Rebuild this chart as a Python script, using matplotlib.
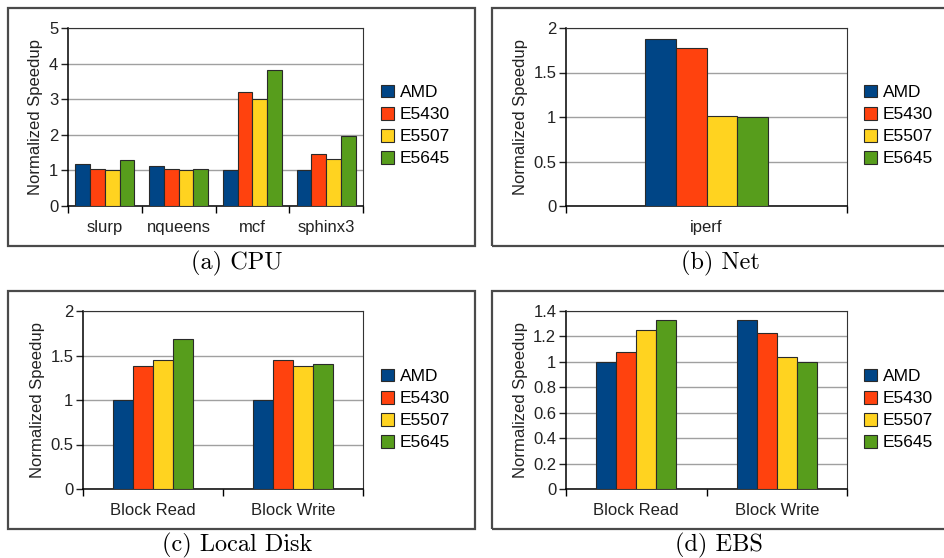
import numpy as np
import matplotlib
matplotlib.use('Agg')
import matplotlib.pyplot as plt
from matplotlib.patches import Rectangle

series = ['AMD', 'E5430', 'E5507', 'E5645']
colors = ['#004586', '#ff420e', '#ffd320', '#579d1c']

cpu_labels = ['slurp', 'nqueens', 'mcf', 'sphinx3']
cpu_values = [
    [1.18, 1.11, 1.00, 1.00],   # AMD
    [1.05, 1.05, 3.20, 1.45],   # E5430
    [1.00, 1.00, 3.01, 1.31],   # E5507
    [1.28, 1.05, 3.82, 1.97],   # E5645
]

net_labels = ['iperf']
net_values = [[1.88], [1.77], [1.01], [1.00]]

disk_labels = ['Block Read', 'Block Write']
disk_values = [[1.00, 1.00], [1.38, 1.45], [1.45, 1.38], [1.68, 1.41]]

ebs_labels = ['Block Read', 'Block Write']
ebs_values = [[1.00, 1.33], [1.08, 1.23], [1.25, 1.04], [1.33, 1.00]]

W, H = 944, 558
fig = plt.figure(figsize=(W / 100, H / 100), dpi=100)
plt.rcParams['font.family'] = ['Liberation Sans', 'DejaVu Sans']


def px_axes(left, top, right, bottom):
    return fig.add_axes([left / W, 1 - bottom / H, (right - left) / W, (bottom - top) / H])


def draw_panel(box, rect, labels, values, ymax, ystep, group, yfmt, caption, cap_xy, leg_xy):
    # outer frame
    bx0, by0, bx1, by1 = box
    fig.patches.append(Rectangle((bx0 / W, 1 - by1 / H), (bx1 - bx0) / W, (by1 - by0) / H,
                                 transform=fig.transFigure, fill=False,
                                 edgecolor='#4a4a4a', lw=1.6, zorder=0))
    ax = px_axes(*rect)
    n = len(labels)
    x = np.arange(n)
    bw = group / len(series)
    for i, (name, col) in enumerate(zip(series, colors)):
        ax.bar(x - group / 2 + bw * (i + 0.5), values[i], bw, color=col,
               edgecolor='#2a2a2a', lw=0.8, label=name, zorder=3)
    ax.set_xlim(-0.5, n - 0.5)
    ax.set_ylim(0, ymax)
    yt = np.arange(0, ymax + 1e-9, ystep)
    ax.set_yticks(yt)
    ax.set_yticklabels([yfmt(v) for v in yt])
    ax.set_xticks(x)
    ax.set_xticklabels(labels)
    ax.set_xticks(np.arange(n + 1) - 0.5, minor=True)
    ax.tick_params(axis='x', which='major', length=0, labelsize=12, pad=10, colors='#222222')
    ax.tick_params(axis='x', which='minor', length=5, width=1, direction='out')
    ax.tick_params(axis='y', length=5, width=1, direction='out', labelsize=12, pad=2,
                   colors='#222222')
    ax.yaxis.grid(True, color='#a0a0a0', lw=1, zorder=0)
    ax.set_axisbelow(True)
    for s in ['top', 'right']:
        ax.spines[s].set_color('#333333')
        ax.spines[s].set_linewidth(0.8)
    for s in ['left', 'bottom']:
        ax.spines[s].set_color('black')
        ax.spines[s].set_linewidth(1.1)
    ax.set_ylabel('Normalized Speedup', fontsize=12, color='#222222', labelpad=4)
    ax.legend(loc='center left', bbox_to_anchor=(leg_xy[0] / W, 1 - leg_xy[1] / H),
              bbox_transform=fig.transFigure, frameon=False, fontsize=12.5,
              handlelength=0.75, handleheight=0.75, handletextpad=0.35,
              labelspacing=0.38, borderpad=0, borderaxespad=0)
    fig.text(cap_xy[0] / W, 1 - cap_xy[1] / H, caption, family='cmr10', fontsize=17.5,
             ha='center', va='center')
    return ax


int_fmt = lambda v: '%d' % round(v)
gen_fmt = lambda v: ('%g' % round(v, 2))

draw_panel((8, 8, 475, 246), (68, 28, 363, 206), cpu_labels, cpu_values, 5, 1, 0.8,
           int_fmt, '(a) CPU', (237, 263), (381, 125.5))
draw_panel((492, 8, 960, 246), (566, 28, 847, 206), net_labels, net_values, 2, 0.5, 0.44,
           gen_fmt, '(b) Net', (720, 263), (864, 125.5))
draw_panel((8, 291, 475, 529), (83, 311, 363, 489), disk_labels, disk_values, 2, 0.5, 0.57,
           gen_fmt, '(c) Local Disk', (237, 545), (381, 409.5))
draw_panel((492, 291, 960, 529), (566, 311, 847, 489), ebs_labels, ebs_values, 1.4, 0.2, 0.57,
           gen_fmt, '(d) EBS', (719, 545), (864, 409.5))

fig.savefig('out.png', dpi=100)
